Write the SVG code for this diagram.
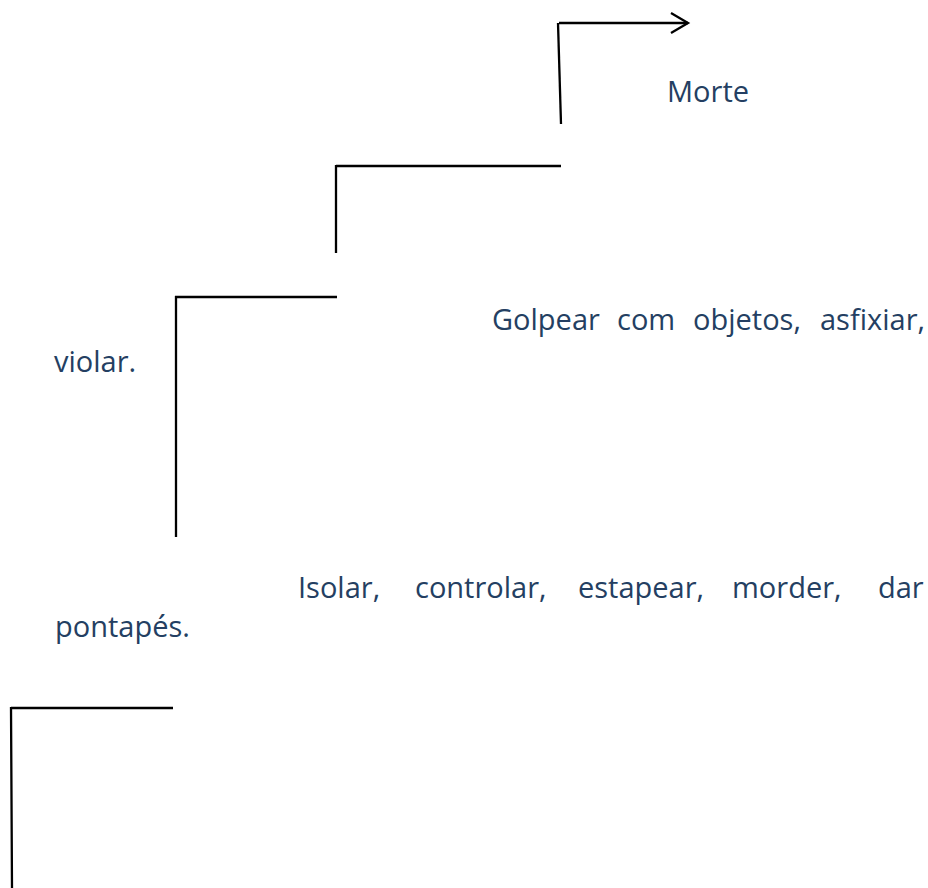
<svg xmlns="http://www.w3.org/2000/svg" width="928" height="888" viewBox="0 0 928 888">
<style>
.t{font-family:"Open Sans","Noto Sans","Liberation Sans",sans-serif;font-size:29px;fill:#243f62}
.ln{stroke:#000;stroke-width:2.3;fill:none;stroke-linecap:butt}
</style>
<rect width="928" height="888" fill="#fff"/>
<g id="connectors">
<path class="ln" d="M558,23 L561,124"/>
<path class="ln" d="M559,23 L688,23"/>
<path class="ln" d="M671,13 L688,23 L671,33"/>
<path class="ln" d="M336,166 L561,166 M336,165 L336,253"/>
<path class="ln" d="M175,297 L337,297 M176,296 L176,537"/>
<path class="ln" d="M11,708 L173,708 M11,707 L12,888"/>
</g>
<g id="morte"><text class="t" x="667" y="102">Morte</text></g>
<g id="golpear">
<text class="t" y="330"><tspan x="492">Golpear</tspan><tspan x="617">com</tspan><tspan x="693">objetos,</tspan><tspan x="820">asfixiar,</tspan></text>
<text class="t" x="54" y="372">violar.</text>
</g>
<g id="isolar">
<text class="t" y="598"><tspan x="298">Isolar,</tspan><tspan x="415">controlar,</tspan><tspan x="578">estapear,</tspan><tspan x="732">morder,</tspan><tspan x="878">dar</tspan></text>
<text class="t" x="55" y="637">pontapés.</text>
</g>
</svg>
